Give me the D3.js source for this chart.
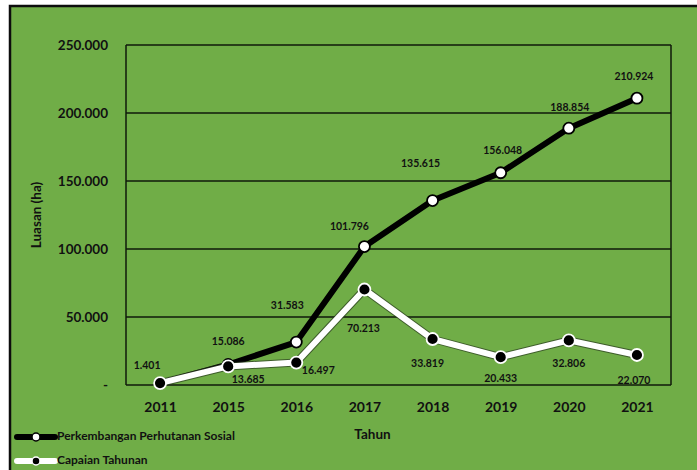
<!DOCTYPE html>
<html>
<head>
<meta charset="utf-8">
<script src="https://cdn.jsdelivr.net/npm/d3@7"></script>
<style>
  html, body { margin: 0; padding: 0; background: #ffffff; }
  svg { display: block; }
  text { font-family: Lato, "Open Sans", sans-serif; font-weight: 700; fill: #111; }
</style>
</head>
<body>
<svg id="chart" width="697" height="470"></svg>
<script>
// Tahun (x axis categories)
const years = ["2011", "2015", "2016", "2017", "2018", "2019", "2020", "2021"];
// Perkembangan Perhutanan Sosial (cumulative, ha)
const perkembangan = [1401, 15086, 31583, 101796, 135615, 156048, 188854, 210924];
// Capaian Tahunan (yearly achievement, ha)
const capaian = [1401, 13685, 16497, 70213, 33819, 20433, 32806, 22070];
// Y axis ticks
const yTicks = [0, 50000, 100000, 150000, 200000, 250000];

// Label nudges for each point (pixels), so the value text sits beside its marker
const perkembanganLabelOffset = [[-13, -17], [0, -22], [-9, -36], [-15, -19], [-12, -36], [2, -21], [1, -20], [-3, -21]];
const capaianLabelOffset = [null, [20, 14], [22, 9], [-1, 40], [-5, 25], [0, 22], [0, 24], [-3, 26]];

const svg = d3.select("#chart");
const W = 697, H = 470;
const plot = { left: 126, right: 671, top: 45, bottom: 385 };

// Green panel with a dark frame on top and left
svg.append("rect").attr("x", 10).attr("y", 6).attr("width", W - 10).attr("height", H - 6).attr("fill", "#70ad47");
svg.append("path").attr("d", `M10,${H} L10,6 L${W},6`).attr("fill", "none").attr("stroke", "#0d0d0d").attr("stroke-width", 2.5);

const x = d3.scalePoint().domain(years).range([plot.left, plot.right]).padding(0.5);
const y = d3.scaleLinear().domain([0, 250000]).range([plot.bottom, plot.top]);

const fmt = v => v === 0 ? "-" : d3.format(",")(v).replace(/,/g, ".");
const fmtVal = v => d3.format(",")(v).replace(/,/g, ".");

// Horizontal gridlines
svg.append("g").selectAll("line").data(yTicks).join("line")
  .attr("x1", plot.left).attr("x2", plot.right)
  .attr("y1", d => y(d)).attr("y2", d => y(d))
  .attr("stroke", "#0f1a0a").attr("stroke-width", 1.5);

// Plot frame sides
svg.append("line").attr("x1", plot.left).attr("x2", plot.left).attr("y1", plot.top).attr("y2", plot.bottom)
  .attr("stroke", "#0f1a0a").attr("stroke-width", 1.5);
svg.append("line").attr("x1", plot.right).attr("x2", plot.right).attr("y1", plot.top).attr("y2", plot.bottom)
  .attr("stroke", "#0f1a0a").attr("stroke-width", 1.5);

// Y axis
const yAxis = d3.axisLeft(y).tickValues(yTicks).tickFormat(fmt).tickSize(0).tickPadding(18);
const gy = svg.append("g").attr("transform", `translate(${plot.left},0)`).call(yAxis);
gy.select(".domain").remove();
gy.selectAll("text").style("font-size", "13.5px").attr("fill", "#111");

// X axis
const xAxis = d3.axisBottom(x).tickSize(0).tickPadding(17);
const gx = svg.append("g").attr("transform", `translate(0,${plot.bottom})`).call(xAxis);
gx.select(".domain").remove();
gx.selectAll("text").style("font-size", "14px").attr("fill", "#111");

// Axis titles
svg.append("text").attr("x", (plot.left + plot.right) / 2 - 26).attr("y", 439)
  .attr("text-anchor", "middle").style("font-size", "13.5px").text("Tahun");
svg.append("text").attr("transform", "translate(41,215) rotate(-90)")
  .attr("text-anchor", "middle").style("font-size", "13.5px").text("Luasan (ha)");

const line = d3.line().x((d, i) => x(years[i])).y(d => y(d));

// Perkembangan line (black with white markers)
svg.append("path").datum(perkembangan).attr("d", line)
  .attr("fill", "none").attr("stroke", "#000").attr("stroke-width", 6).attr("stroke-linejoin", "round");
svg.append("g").selectAll("circle").data(perkembangan).join("circle")
  .attr("cx", (d, i) => x(years[i])).attr("cy", d => y(d)).attr("r", 5.5)
  .attr("fill", "#fff").attr("stroke", "#000").attr("stroke-width", 1.8);

// Capaian line (white with a thin dark edge, black markers)
svg.append("path").datum(capaian).attr("d", line)
  .attr("fill", "none").attr("stroke", "#2a3a20").attr("stroke-opacity", 0.7).attr("stroke-width", 8).attr("stroke-linejoin", "round");
svg.append("path").datum(capaian).attr("d", line)
  .attr("fill", "none").attr("stroke", "#fff").attr("stroke-width", 6).attr("stroke-linejoin", "round");
svg.append("g").selectAll("circle").data(capaian).join("circle")
  .attr("cx", (d, i) => x(years[i])).attr("cy", d => y(d)).attr("r", 6)
  .attr("fill", "#000").attr("stroke", "#fff").attr("stroke-width", 1.8);

// Value labels
svg.append("g").selectAll("text").data(perkembangan).join("text")
  .attr("x", (d, i) => x(years[i]) + perkembanganLabelOffset[i][0])
  .attr("y", (d, i) => y(d) + perkembanganLabelOffset[i][1])
  .attr("text-anchor", "middle").attr("dominant-baseline", "middle")
  .style("font-size", "10.5px").attr("fill", "#1b2a12").text(d => fmtVal(d));
svg.append("g").selectAll("text").data(capaian.map((v, i) => ({ v, i })).filter(d => capaianLabelOffset[d.i])).join("text")
  .attr("x", d => x(years[d.i]) + capaianLabelOffset[d.i][0])
  .attr("y", d => y(d.v) + capaianLabelOffset[d.i][1])
  .attr("text-anchor", "middle").attr("dominant-baseline", "middle")
  .style("font-size", "10.5px").attr("fill", "#1b2a12").text(d => fmtVal(d.v));

// Legend
const legend = [
  { name: "Perkembangan Perhutanan Sosial", line: "#000", dotFill: "#fff", dotStroke: "#000", y: 437 },
  { name: "Capaian Tahunan", line: "#fff", dotFill: "#000", dotStroke: "#fff", y: 461 }
];
const lg = svg.append("g").selectAll("g").data(legend).join("g");
lg.append("line").attr("x1", 17).attr("x2", 55).attr("y1", d => d.y).attr("y2", d => d.y)
  .attr("stroke", d => d.line).attr("stroke-width", 6).attr("stroke-linecap", "round");
lg.append("circle").attr("cx", 36).attr("cy", d => d.y).attr("r", 4)
  .attr("fill", d => d.dotFill).attr("stroke", d => d.dotStroke).attr("stroke-width", 1.5);
lg.append("text").attr("x", 57).attr("y", d => d.y).attr("dominant-baseline", "middle")
  .style("font-size", "12px").text(d => d.name);
</script>
</body>
</html>
